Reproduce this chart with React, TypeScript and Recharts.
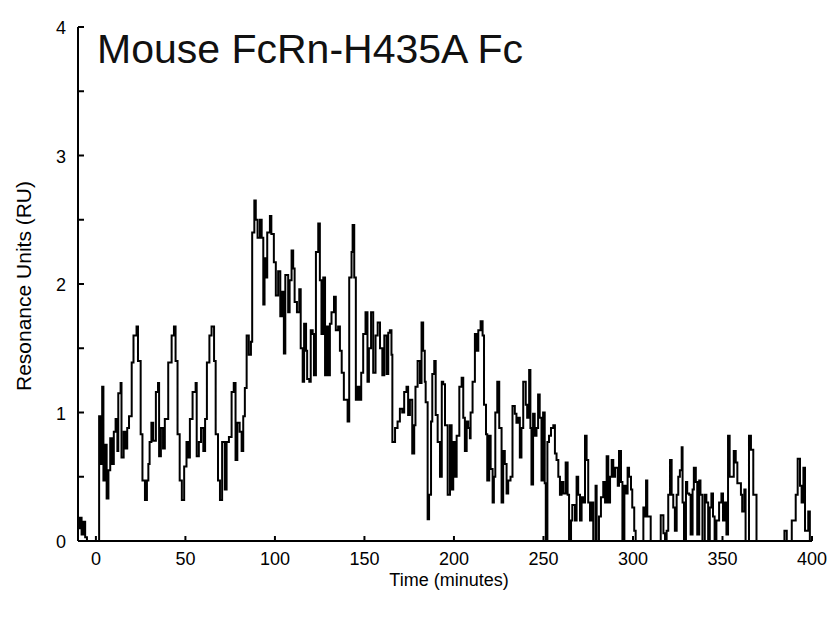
import React from 'react';
import { LineChart, Line, XAxis, YAxis } from 'recharts';

// time in minutes, response in RU
const times = [
  -10, -9, -8, -7, -6, -5, 1.8, 2.5, 3.5, 4.2, 5, 6, 7, 8, 9, 10, 11, 12, 12.5, 13.8,
  14.3, 15.5, 16.5, 17.5, 18.5, 20, 21, 22.7, 23.5, 25, 26, 27.4, 28.5, 29.3, 30, 31, 32, 33.5, 34.7, 35.3,
  36.3, 37.5, 38.5, 40.4, 42.3, 43.6, 44.5, 45.6, 46.8, 48, 49.3, 50.6, 51.5, 52.5, 54, 55.7, 56.3, 57.5, 58.7, 60,
  61, 62, 63.4, 64.6, 66, 66.9, 68.2, 69.3, 70.5, 72, 73, 74.3, 75.8, 77, 78, 79, 80.3, 81.4, 82.3, 83.2,
  84.2, 85.4, 86.6, 87.3, 88.5, 89.3, 90.3, 91.6, 92.6, 93.5, 94.2, 95, 95.7, 97.2, 98, 99.4, 100.5, 101.8, 103, 104,
  105, 105.8, 107.4, 108.2, 109.3, 110.2, 111, 112.3, 113.6, 114.4, 115.5, 116.3, 117.4, 118, 119.2, 120, 121.1, 121.8, 122.9, 124.2,
  125.1, 126, 127, 128, 128.9, 129.8, 130.7, 131.6, 133, 134, 135.3, 136.3, 137.3, 138.5, 139.7, 140.6, 141.5, 142.8, 143.4, 144.3,
  145.2, 146.3, 147.2, 148.2, 149.3, 150.6, 151.7, 152.5, 153.7, 154.9, 156.2, 157.4, 158.7, 160, 161.1, 162.4, 163.3, 164.2, 165.1, 165.6,
  167.1, 168.5, 169.8, 171.1, 172.2, 173.5, 174.4, 175.4, 176.7, 177.8, 178.5, 179.7, 181, 181.9, 182.8, 183.7, 184.2, 185.3, 186.1, 187.2,
  187.9, 189, 189.8, 190.9, 192.2, 193.2, 194, 195, 196.5, 197.8, 198.7, 199.6, 200.6, 201.5, 203, 204.3, 205.2, 206.1, 207.1, 208,
  208.9, 209.3, 210.4, 211.7, 212.6, 213.6, 214.9, 216, 216.8, 217.9, 218.6, 219.7, 220.5, 221.6, 222.3, 223.1, 224.2, 225.3, 226.6, 227.5,
  228.4, 229.4, 230.3, 231.6, 232.7, 234, 234.9, 235.9, 236.8, 237.7, 238.7, 240.1, 240.9, 242, 242.7, 243.3, 244.2, 245.1, 246.1, 247,
  247.9, 248.9, 249.8, 250.7, 251.3, 252.2, 253.1, 254.2, 255.5, 256.4, 257.3, 258.3, 259.2, 260.1, 261.1, 262.4, 263.5, 264.3, 265.4, 266.1,
  267.6, 268.5, 269.4, 270.4, 271.3, 272.2, 273.2, 274.1, 275, 276, 276.9, 277.8, 279.1, 279.7, 281, 282.1, 283.4, 284.4, 285.3, 286.2,
  287.2, 288.1, 289, 290, 291.5, 292.2, 293.3, 294.1, 295.2, 295.9, 297, 297.8, 298.9, 299.6, 300.7, 301.5, 305.8, 306.7, 307.3, 308,
  309.1, 309.9, 315.5, 317, 317.9, 318.8, 319.7, 320.7, 321.6, 322.5, 323.4, 324.4, 325.3, 326.2, 327.2, 327.7, 328.5, 329.6, 330.3, 331.4,
  332.2, 333.3, 334, 335.1, 335.9, 337, 337.7, 338.8, 340.1, 341, 342, 342.9, 343.8, 344.7, 345.6, 346.6, 348.1, 349.4, 350.3, 351.2,
  352.2, 353.1, 354, 355, 356.3, 357.4, 358.3, 359.2, 360.3, 361, 362.2, 362.9, 364.8, 365.9, 367.2, 368.1, 369, 384.6, 385.9, 388.7,
  390.9, 392, 393.3, 394.2, 395.2, 396.1, 397, 397.9, 398.8,
];

const response = [
  0.1, 0.18, 0.05, 0.15, 0.03, 0, 0.97, 0.6, 1.2, 0.47, 0.75, 0.33, 0.55, 0.8, 0.6, 0.85, 0.95, 0.7, 1.15, 1.23,
  0.65, 0.85, 0.72, 0.88, 0.97, 1.39, 1.6, 1.67, 1.4, 0.83, 0.47, 0.32, 0.47, 0.6, 0.77, 0.92, 0.78, 1.16, 1.23, 0.66,
  0.88, 0.72, 0.95, 1.39, 1.6, 1.67, 1.4, 0.83, 0.47, 0.32, 0.58, 0.77, 0.65, 0.95, 1.16, 1.23, 0.66, 0.77, 0.88, 0.7,
  0.95, 1.39, 1.6, 1.67, 1.4, 0.83, 0.47, 0.32, 0.77, 0.4, 0.77, 0.81, 1.16, 1.23, 0.63, 0.92, 0.85, 0.7, 0.97, 1.19,
  1.6, 1.45, 1.55, 2.4, 2.65, 2.5, 2.36, 2.5, 2.36, 1.84, 2.2, 2.05, 2.4, 2.53, 2.39, 2.17, 1.91, 2.1, 1.75, 1.94,
  1.46, 2.07, 1.78, 2.03, 2.26, 2.12, 1.86, 1.78, 1.96, 1.5, 1.24, 1.69, 1.48, 1.26, 1.24, 1.64, 1.61, 1.29, 2.25, 2.47,
  2.03, 1.61, 2.05, 1.29, 1.67, 1.29, 1.69, 1.78, 1.9, 1.64, 1.67, 1.48, 1.31, 1.1, 1.1, 0.93, 2.05, 2.25, 2.46, 2.05,
  1.1, 1.2, 1.1, 1.31, 1.61, 1.78, 1.24, 1.5, 1.78, 1.31, 1.6, 1.7, 1.5, 1.29, 1.6, 1.3, 1.62, 1.64, 1.45, 0.77,
  0.88, 0.93, 1.03, 1.0, 1.16, 1.2, 0.98, 1.1, 0.68, 0.9, 1.2, 1.4, 1.23, 1.7, 1.48, 1.24, 1.08, 0.17, 0.36, 0.93,
  1.3, 1.4, 0.98, 0.77, 0.5, 1.24, 1.22, 0.9, 0.36, 0.9, 0.4, 0.77, 0.5, 0.82, 1.2, 1.27, 0.96, 0.7, 0.93, 0.88,
  0.8, 1.0, 1.24, 1.61, 1.48, 1.64, 1.71, 1.6, 1.06, 0.83, 0.47, 0.82, 0.56, 0.3, 0.5, 1.0, 1.24, 0.88, 0.3, 0.7,
  0.6, 0.37, 0.47, 0.5, 1.05, 0.99, 0.92, 0.96, 0.65, 0.88, 1.24, 1.06, 0.96, 1.33, 0.88, 0.44, 0.99, 0.82, 0.88, 1.14,
  0.96, 0.47, 1.0, 0.45, 0, 0.77, 0.82, 0.88, 0.9, 0.68, 0.63, 0.5, 0.36, 0.46, 0.37, 0.61, 0.36, 0, 0.16, 0.28,
  0.16, 0.5, 0.36, 0.16, 0.34, 0.3, 0.82, 0.63, 0.3, 0.16, 0.3, 0, 0.43, 0, 0.19, 0.34, 0.46, 0.3, 0.66, 0.3,
  0.5, 0.63, 0.5, 0.57, 0.43, 0.7, 0.46, 0, 0.43, 0.37, 0.57, 0.5, 0.4, 0.26, 0.08, 0, 0.26, 0.19, 0.47, 0.19,
  0.19, 0, 0.2, 0.06, 0, 0.08, 0.36, 0.63, 0.36, 0.26, 0.08, 0.36, 0.5, 0.55, 0.73, 0.3, 0, 0.46, 0.37, 0.36,
  0.05, 0.4, 0.57, 0.46, 0.05, 0.47, 0.36, 0, 0.36, 0.3, 0, 0.26, 0.37, 0.19, 0, 0.16, 0.3, 0.37, 0.16, 0.3,
  0.05, 0.82, 0.5, 0.5, 0.7, 0.61, 0.45, 0.45, 0.36, 0.23, 0.4, 0, 0.82, 0.71, 0.36, 0.36, 0, 0.08, 0, 0.16,
  0.36, 0.64, 0.43, 0.3, 0.57, 0.08, 0.08, 0.23, 0,
];

const xTicks = [0, 50, 100, 150, 200, 250, 300, 350, 400];
const yTicks = [0, 0.5, 1, 1.5, 2, 2.5, 3, 3.5, 4];

const data = times.map((t, i) => ({ t, v: response[i] }));

const FONT = '"Liberation Sans", Arial, sans-serif';
const W = 821;
const H = 600;
const PLOT_LEFT = 70;
const PLOT_BOTTOM = 533;

const XTick = (props: any) => {
  const { x, payload } = props;
  return (
    <g>
      <line x1={x} x2={x} y1={PLOT_BOTTOM} y2={PLOT_BOTTOM - 5} stroke="#000" strokeWidth={2} />
      <text x={x} y={PLOT_BOTTOM + 24} textAnchor="middle" fontSize={18} fontFamily={FONT} fill="#000">
        {payload.value}
      </text>
    </g>
  );
};

const YTick = (props: any) => {
  const { y, payload } = props;
  const v = payload.value;
  return (
    <g>
      <line x1={PLOT_LEFT} x2={PLOT_LEFT + 6} y1={y} y2={y} stroke="#000" strokeWidth={2} />
      {Number.isInteger(v) && (
        <text x={PLOT_LEFT - 12} y={y + 7} textAnchor="end" fontSize={18} fontFamily={FONT} fill="#000">
          {v}
        </text>
      )}
    </g>
  );
};

export default function App() {
  return (
    <div style={{ position: 'relative', width: W, height: H, background: '#fff', fontFamily: FONT }}>
      <LineChart width={W} height={H} data={data} margin={{ top: 19, right: 17, bottom: 37, left: 30 }}>
        <XAxis
          dataKey="t"
          type="number"
          domain={[-10, 400]}
          ticks={xTicks}
          interval={0}
          height={30}
          tickLine={false}
          tickSize={0}
          tick={<XTick />}
          axisLine={{ stroke: '#000', strokeWidth: 2 }}
          allowDataOverflow
        />
        <YAxis
          type="number"
          domain={[0, 4]}
          ticks={yTicks}
          interval={0}
          width={40}
          tickLine={false}
          tickSize={0}
          tick={<YTick />}
          axisLine={{ stroke: '#000', strokeWidth: 2 }}
          allowDataOverflow
        />
        <Line
          dataKey="v"
          type="stepAfter"
          stroke="#000"
          strokeWidth={2}
          dot={false}
          isAnimationActive={false}
        />
      </LineChart>
      <div style={{ position: 'absolute', left: 89, top: 21, fontSize: 41, lineHeight: 1, color: '#111', whiteSpace: 'nowrap' }}>
        Mouse FcRn-H435A Fc
      </div>
      <div style={{ position: 'absolute', left: 0, width: 882, top: 563, textAlign: 'center', fontSize: 18, lineHeight: 1, color: '#000' }}>
        Time (minutes)
      </div>
      <div
        style={{
          position: 'absolute',
          left: 15,
          top: 278,
          fontSize: 21,
          lineHeight: 1,
          whiteSpace: 'nowrap',
          transform: 'translate(-50%, -50%) rotate(-90deg)',
          color: '#000',
        }}
      >
        Resonance Units (RU)
      </div>
    </div>
  );
}
